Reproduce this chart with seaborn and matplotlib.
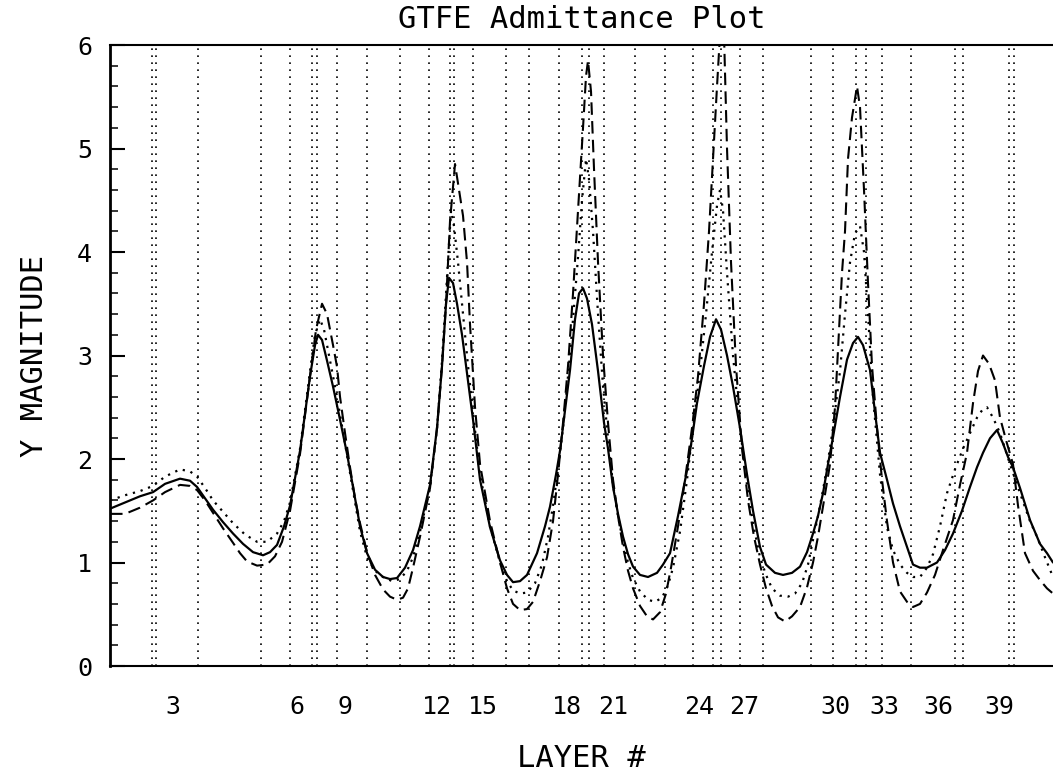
import matplotlib
matplotlib.use("Agg")
import matplotlib.pyplot as plt
import seaborn as sns
import pandas as pd
from matplotlib.ticker import MultipleLocator

# layer boundaries (thickness units along the stack)
boundaries = [42, 46, 88, 151, 180, 202, 207, 227, 257, 290, 319, 340, 344, 363,
              396, 419, 449, 472, 479, 494, 525, 555, 583, 603, 611, 630, 653,
              701, 723, 746, 756, 772, 801, 845, 853, 899, 904]

layer_pos = [63, 187, 235, 327, 373, 457, 503, 589, 634, 725, 774, 828, 889]
layer_lbl = ['3', '6', '9', '12', '15', '18', '21', '24', '27', '30', '33', '36', '39']

# solid curve
solid_x = [0, 15, 30, 43, 55, 70, 80, 87, 95, 103, 113, 123, 133, 143, 153, 160, 167,
           174, 180, 190, 200, 205, 208, 212, 217, 223, 230, 237, 243, 250, 257, 265,
           273, 280, 287, 295, 303, 310, 320, 327, 332, 336, 339, 343, 347, 352, 358,
           363, 370, 380, 390, 397, 403, 410, 417, 427, 435, 440, 446, 450, 456, 460,
           465, 469, 473, 477, 482, 488, 494, 498, 503, 508, 513, 518, 523, 530, 538,
           547, 553, 560, 568, 577, 582, 587, 594, 600, 606, 611, 617, 623, 630, 637,
           643, 650, 656, 665, 673, 682, 690, 697, 703, 708, 713, 718, 723, 730, 737,
           743, 748, 753, 760, 765, 770, 777, 783, 790, 797, 803, 810, 817, 827, 835,
           843, 852, 860, 867, 873, 880, 887, 893, 898, 903, 910, 920, 930, 937, 943]
solid_y = [1.52, 1.58, 1.64, 1.68, 1.76, 1.81, 1.79, 1.73, 1.62, 1.51, 1.39, 1.28, 1.18,
           1.10, 1.07, 1.10, 1.17, 1.35, 1.55, 2.08, 2.80, 3.10, 3.20, 3.15, 2.95, 2.70,
           2.38, 2.05, 1.73, 1.35, 1.09, 0.93, 0.86, 0.84, 0.85, 0.95, 1.12, 1.35, 1.75,
           2.30, 2.90, 3.50, 3.75, 3.70, 3.50, 3.20, 2.75, 2.38, 1.80, 1.34, 1.02, 0.88,
           0.81, 0.82, 0.88, 1.09, 1.35, 1.54, 1.85, 2.08, 2.55, 2.86, 3.35, 3.60, 3.65,
           3.55, 3.30, 2.85, 2.35, 2.10, 1.73, 1.47, 1.25, 1.08, 0.96, 0.88, 0.86, 0.90,
           0.98, 1.09, 1.45, 1.89, 2.20, 2.54, 2.90, 3.18, 3.35, 3.25, 3.00, 2.70, 2.30,
           1.85, 1.50, 1.15, 0.98, 0.90, 0.88, 0.90, 0.96, 1.10, 1.28, 1.45, 1.67, 1.95,
           2.21, 2.60, 2.96, 3.12, 3.18, 3.10, 2.86, 2.45, 2.06, 1.80, 1.57, 1.35, 1.15,
           0.98, 0.95, 0.95, 1.00, 1.12, 1.28, 1.50, 1.73, 1.92, 2.06, 2.20, 2.28, 2.15,
           2.02, 1.92, 1.72, 1.41, 1.18, 1.09, 1.00]

# dotted curve
dot_x = [0, 15, 30, 43, 55, 70, 80, 87, 95, 103, 113, 123, 135, 147, 157, 167, 174, 180,
         190, 200, 205, 210, 214, 220, 227, 235, 242, 250, 257, 265, 273, 282, 290, 297,
         303, 310, 320, 327, 332, 336, 339, 341, 344, 348, 353, 358, 363, 370, 380, 390,
         397, 403, 410, 417, 425, 432, 438, 443, 448, 453, 458, 463, 468, 472, 476, 479,
         483, 488, 493, 498, 503, 508, 513, 518, 523, 530, 538, 545, 552, 558, 563, 570,
         577, 583, 590, 596, 602, 607, 610, 613, 617, 623, 630, 637, 643, 650, 656, 662,
         670, 678, 685, 692, 698, 703, 708, 713, 718, 723, 730, 735, 740, 745, 750, 754,
         758, 763, 770, 777, 783, 790, 797, 803, 810, 817, 823, 830, 837, 845, 853, 860,
         867, 872, 877, 883, 890, 900, 910, 920, 927, 935, 943]
dot_y = [1.60, 1.65, 1.69, 1.74, 1.83, 1.90, 1.88, 1.83, 1.72, 1.60, 1.49, 1.38, 1.27,
         1.20, 1.20, 1.28, 1.40, 1.58, 2.10, 2.85, 3.20, 3.35, 3.25, 2.95, 2.60, 2.15,
         1.75, 1.30, 1.05, 0.92, 0.86, 0.82, 0.84, 0.92, 1.05, 1.30, 1.73, 2.30, 2.95,
         3.60, 4.10, 4.40, 4.25, 3.90, 3.40, 2.90, 2.45, 1.85, 1.35, 1.00, 0.82, 0.73,
         0.70, 0.71, 0.80, 0.98, 1.25, 1.55, 1.90, 2.30, 2.80, 3.35, 3.95, 4.50, 4.90,
         4.70, 4.20, 3.40, 2.70, 2.20, 1.75, 1.45, 1.20, 1.00, 0.85, 0.72, 0.64, 0.62,
         0.66, 0.78, 0.95, 1.30, 1.80, 2.30, 2.85, 3.40, 4.00, 4.45, 4.60, 4.40, 3.80,
         3.00, 2.30, 1.75, 1.38, 1.05, 0.88, 0.75, 0.68, 0.67, 0.70, 0.80, 0.98, 1.22,
         1.45, 1.70, 1.98, 2.30, 2.85, 3.40, 3.90, 4.18, 4.25, 4.00, 3.40, 2.60, 1.85,
         1.34, 1.12, 0.98, 0.90, 0.86, 0.86, 0.95, 1.08, 1.35, 1.67, 1.90, 2.10, 2.25,
         2.40, 2.47, 2.50, 2.40, 2.25, 1.95, 1.67, 1.40, 1.25, 1.05, 0.86]

# dashed curve
dash_x = [0, 15, 30, 43, 55, 70, 80, 87, 95, 103, 113, 123, 130, 137, 147, 157, 165, 172,
          180, 190, 200, 206, 212, 217, 223, 227, 230, 235, 240, 245, 250, 257, 265, 273,
          280, 287, 293, 298, 303, 310, 320, 327, 332, 336, 340, 345, 349, 353, 357, 360,
          365, 370, 380, 390, 397, 403, 410, 417, 423, 430, 437, 443, 448, 453, 458, 463,
          468, 473, 476, 478, 481, 484, 488, 493, 498, 503, 508, 513, 518, 523, 530, 537,
          543, 550, 556, 561, 568, 575, 582, 588, 594, 599, 603, 607, 610, 612, 614, 617,
          621, 626, 632, 638, 644, 650, 656, 662, 668, 675, 682, 690, 697, 703, 708, 714,
          720, 725, 729, 732, 735, 738, 742, 747, 750, 754, 758, 762, 767, 772, 777, 783,
          790, 797, 803, 810, 817, 825, 833, 843, 850, 857, 863, 868, 873, 879, 885, 890,
          897, 903, 908, 915, 923, 930, 937, 943]
dash_y = [1.47, 1.47, 1.53, 1.60, 1.68, 1.75, 1.74, 1.70, 1.60, 1.48, 1.33, 1.19, 1.09,
          1.01, 0.97, 0.98, 1.06, 1.20, 1.50, 2.05, 2.80, 3.25, 3.50, 3.40, 3.10, 2.89,
          2.60, 2.25, 1.92, 1.62, 1.38, 1.10, 0.88, 0.74, 0.67, 0.64, 0.66, 0.75, 0.95,
          1.25, 1.72, 2.30, 2.90, 3.50, 4.30, 4.85, 4.60, 4.35, 3.90, 3.30, 2.50, 1.95,
          1.40, 1.00, 0.75, 0.60, 0.54, 0.55, 0.62, 0.82, 1.05, 1.40, 1.85, 2.35, 2.90,
          3.60, 4.40, 5.20, 5.70, 5.85, 5.55, 4.80, 3.90, 3.00, 2.35, 1.80, 1.45, 1.15,
          0.92, 0.75, 0.58, 0.48, 0.45, 0.52, 0.70, 0.95, 1.35, 1.80, 2.30, 2.80, 3.50,
          4.20, 4.90, 5.60, 6.10, 6.40, 6.10, 5.00, 3.90, 2.90, 2.10, 1.60, 1.25, 0.98,
          0.75, 0.58, 0.47, 0.43, 0.48, 0.57, 0.76, 1.00, 1.25, 1.60, 1.95, 2.50, 3.25,
          3.80, 4.20, 4.90, 5.30, 5.60, 5.40, 4.60, 3.70, 2.90, 2.30, 1.80, 1.40, 1.00,
          0.72, 0.62, 0.57, 0.60, 0.71, 0.88, 1.12, 1.41, 1.75, 2.06, 2.54, 2.85, 3.00,
          2.92, 2.76, 2.40, 2.15, 1.95, 1.55, 1.09, 0.92, 0.83, 0.75, 0.70]

sns.set_theme(style="white")
plt.rcParams['font.family'] = ['DejaVu Sans Mono', 'DejaVu Sans']

fig = plt.figure(figsize=(10.53, 7.72), dpi=100)
ax = fig.add_axes([0.1045, 0.1373, 0.8955, 0.8044])

for b in boundaries:
    ax.axvline(b, color='black', lw=1.2, linestyle=(0, (1, 3.2)), zorder=1)

sns.lineplot(x=solid_x, y=solid_y, ax=ax, color='black', lw=1.6,
             sort=False, estimator=None, zorder=3)
sns.lineplot(x=dot_x, y=dot_y, ax=ax, color='black', lw=1.6,
             linestyle=(0, (1, 2.6)), sort=False, estimator=None, zorder=3)
sns.lineplot(x=dash_x, y=dash_y, ax=ax, color='black', lw=1.5,
             linestyle=(0, (6, 3)), sort=False, estimator=None, zorder=3)

ax.set_xlim(0, 943)
ax.set_ylim(0, 6)

ax.set_xticks(layer_pos)
ax.set_xticklabels(layer_lbl)
ax.tick_params(axis='x', length=0, pad=21, labelsize=18, colors='black')

ax.yaxis.set_major_locator(MultipleLocator(1))
ax.yaxis.set_minor_locator(MultipleLocator(0.2))
ax.tick_params(axis='y', which='major', direction='in', length=11, width=1.5,
               pad=13, labelsize=18, colors='black', left=True)
ax.tick_params(axis='y', which='minor', direction='in', length=6, width=1.3, left=True)

for s in ['left', 'bottom', 'top']:
    ax.spines[s].set_color('black')
ax.spines['left'].set_linewidth(2)
ax.spines['bottom'].set_linewidth(1.5)
ax.spines['top'].set_linewidth(1.5)
ax.spines['right'].set_visible(False)

ax.set_title('GTFE Admittance Plot', fontsize=22, pad=12, color='black')
ax.set_xlabel('LAYER #', fontsize=22, labelpad=18, color='black')
ax.set_ylabel('Y MAGNITUDE', fontsize=22, labelpad=20, color='black')

fig.savefig('out.png', dpi=100, facecolor='white')
